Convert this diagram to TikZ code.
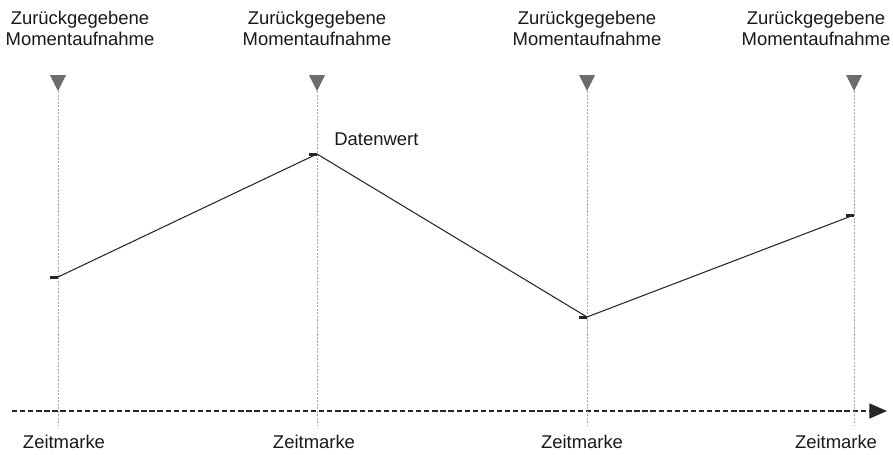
\documentclass[tikz,border=0pt]{standalone}
\usepackage{fontspec}
\setmainfont{Liberation Sans}
\usetikzlibrary{arrows.meta}

\tikzset{
  snapline/.style={gray!70, line width=0.4pt, dash pattern=on 1.2pt off 0.8pt},
  snapmark/.style={fill=gray!85!black, draw=none},
  lbl/.style={font=\fontsize{10.5}{11.9}\selectfont, align=center, text=black!90, inner sep=0pt},
  tickmark/.style={line width=1.7pt, black!85}
}

\begin{document}
\begin{tikzpicture}[x=0.02cm, y=-0.02cm]
  \useasboundingbox (0,0) rectangle (893,454);
  % time axis
  \coordinate (axstart) at (12,411);
  \coordinate (axend) at (887,411);
  \draw[dash pattern=on 3pt off 1.6pt, black!85, line width=0.7pt, -{Triangle[length=10pt, width=8.5pt]}] (axstart) -- (axend);
  % snapshots
  \foreach \name/\x/\y/\lx/\zx in {a/58/277/80/64, b/317/154/317/314, c/587/317/587/582, d/854/215/816/836} {
    \node[lbl] (top\name) at (\lx,28) {Zurückgegebene\\Momentaufnahme};
    \node[lbl] (zm\name) at (\zx,441.5) {Zeitmarke};
    \fill[snapmark] (\x-8,75) -- (\x+8,75) -- (\x,91) -- cycle;
    \coordinate (tri\name) at (\x,91);
    \coordinate (bot\name) at (\x,425);
    \draw[snapline] (tri\name) -- (bot\name);
    \coordinate (p\name) at (\x,\y);
    \draw[tickmark] (\x-8,\y) -- (p\name);
  }
  % data curve
  \draw[black!85, line width=0.6pt] (pa) -- (pb) -- (pc) -- (pd);
  \node[lbl, anchor=west] (wert) at (334,139) {Datenwert};
\end{tikzpicture}
\end{document}
